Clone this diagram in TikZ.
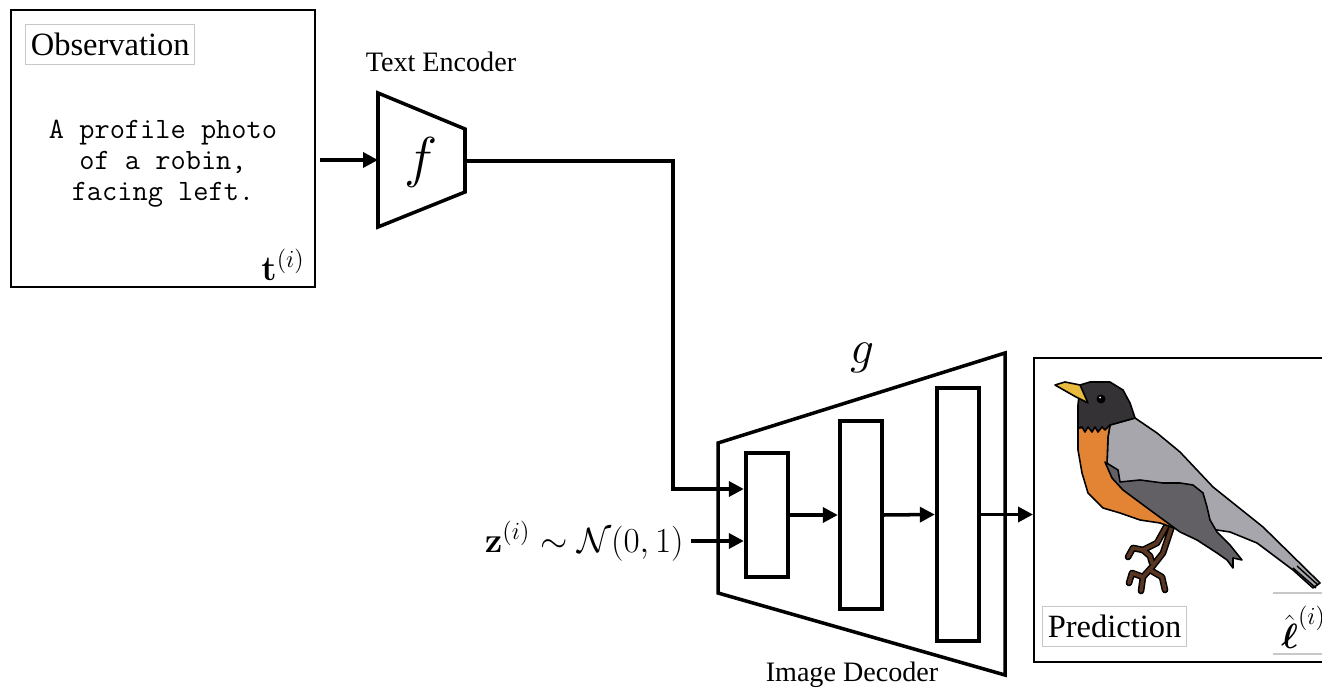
\documentclass[tikz,border=0pt]{standalone}
\usepackage{fix-cm}
\usepackage{amsmath,amssymb}
\usepackage[no-math]{fontspec}
\setmainfont{Liberation Serif}
\usetikzlibrary{arrows.meta,positioning,calc}

\definecolor{robinorange}{RGB}{226,132,52}
\definecolor{robinback}{RGB}{166,166,172}
\definecolor{robinwing}{RGB}{98,96,100}
\definecolor{robinhead}{RGB}{52,50,52}
\definecolor{robinbeak}{RGB}{232,186,62}
\definecolor{robinleg}{RGB}{88,54,34}
\definecolor{tagline}{RGB}{200,200,200}

\tikzset{
  arr/.style={line width=2pt,-{Triangle[length=8.5pt,width=8.5pt]}},
  net/.style={line width=2pt,line join=miter},
  layer/.style={draw,line width=2.5pt,minimum width=0.84cm,inner sep=0pt},
  tag/.style={draw=tagline,line width=0.6pt,font=\fontsize{18.5}{22}\selectfont,inner xsep=3pt,minimum height=0.8cm},
  caption/.style={font=\fontsize{16}{19}\selectfont},
  mathlbl/.style={font=\fontsize{20}{24}\selectfont,inner sep=0pt},
  plumage/.style={draw=black,line width=0.9pt,line join=round},
}

\begin{document}
\begin{tikzpicture}[x=0.02cm,y=-0.02cm]
\useasboundingbox (0,0) rectangle (1322,688);

% observation box
\node[draw,line width=1.2pt,minimum width=6.08cm,minimum height=5.54cm,inner sep=0pt] (obs) at (163,148.5) {};
\node[tag,anchor=north west] (obslbl) at (25,24) {Observation};
\node[font=\ttfamily\fontsize{16.8}{17.6}\selectfont,align=center] (prompt) at (163,164) {A profile photo\\of a robin,\\facing left.};
\node[mathlbl,anchor=south east] (tvec) at (305,281) {$\mathbf{t}^{(i)}$};

% text encoder
\draw[net] (378,93) -- (465,129) -- (465,192) -- (378,227) -- cycle;
\coordinate (encL) at (378,160);
\coordinate (encR) at (465,161);
\coordinate (bend) at (673,489);
\node[font=\fontsize{32}{36}\selectfont] (f) at (421,162) {$f$};
\node[caption] (enclbl) at (441,62) {Text Encoder};

% image decoder
\draw[net] (718,443) -- (1005,353) -- (1005,675) -- (718,593) -- cycle;
\node[layer,minimum height=2.48cm] (l1) at (767,515) {};
\node[layer,minimum height=3.76cm] (l2) at (861,515) {};
\node[layer,minimum height=5.06cm] (l3) at (958,514.5) {};
\node[font=\fontsize{27}{30}\selectfont] (g) at (862,358) {$g$};
\node[caption] (declbl) at (852,675) {Image Decoder};

% noise input
\node[mathlbl,anchor=east] (z) at (684,541) {$\mathbf{z}^{(i)}\sim\mathcal{N}(0,1)$};

% prediction box
\node[draw,line width=1.2pt,minimum width=6.04cm,minimum height=6.08cm,anchor=north west,inner sep=0pt] (pred) at (1033,357) {};
\node[tag,anchor=north west] (predlbl) at (1042,606) {Prediction};
\draw[tagline,line width=0.6pt] (1273,593) -- (1330,593) (1273,654) -- (1330,654);
\node[mathlbl,anchor=west] (ell) at (1281,627) {$\hat{\boldsymbol{\ell}}^{(i)}$};

% connectors
\draw[arr,shorten <=2pt] (obs.east |- encL) -- (encL);
\draw[arr] (encR) -| (bend) -- (l1.west |- bend);
\draw[arr,shorten <=4pt] (z.east) -- (l1.west |- z.east);
\draw[arr] (l1.east) -- (l2.west);
\draw[arr] (l2.east) -- (l3.west);
\draw[arr] (l3.east) -- (pred.west |- l3.east);

% robin
\begin{scope}
  % legs
  \foreach \c/\w in {black/3.8pt,robinleg/2.1pt} {
    \draw[\c,line width=\w,line cap=round,line join=round]
      (1173,523) -- (1163,553) -- (1152,567) -- (1143,577) -- (1141,591)
      (1143,577) -- (1132,573) -- (1129,583)
      (1150,570) -- (1162,577) -- (1165,590)
      (1167,525) -- (1157,543) -- (1143,550) -- (1133,548) -- (1128,557)
      (1143,550) -- (1150,556) -- (1152,563);
  }
  % back and tail
  \fill[robinback,plumage] (1107,463) -- (1108,437) -- (1110,425) -- (1135,418) -- (1157,433)
    -- (1180,452) -- (1213,487) -- (1263,527) -- (1320,583) -- (1313,588) -- (1293,570)
    -- (1257,543) -- (1230,532) -- (1217,530) -- (1177,527) -- (1130,497) -- (1107,475) -- cycle;
  \draw[line width=0.8pt] (1293,568) -- (1316,588) (1297,566) -- (1318,585);
  % breast
  \fill[robinorange,plumage] (1078,428) -- (1078,450) -- (1082,473) -- (1088,493) -- (1103,508)
    -- (1120,513) -- (1140,520) -- (1160,523) -- (1180,530) -- (1150,505) -- (1120,485)
    -- (1107,463) -- (1108,437) -- (1110,425) -- cycle;
  % wing
  \fill[robinwing,plumage] (1105,462) -- (1118,470) -- (1120,482) -- (1140,480) -- (1163,483)
    -- (1180,483) -- (1193,485) -- (1203,493) -- (1207,507) -- (1210,520) -- (1217,532)
    -- (1230,545) -- (1242,560) -- (1233,558) -- (1233,568) -- (1227,560) -- (1217,553)
    -- (1197,540) -- (1180,532) -- (1150,510) -- (1123,490) -- (1112,478) -- cycle;
  % head
  \fill[robinhead,plumage] (1080,385) -- (1090,382) -- (1110,382) -- (1123,390) -- (1130,403)
    -- (1135,418) -- (1110,425) -- (1105,430) -- (1102,427) -- (1098,432) -- (1095,427)
    -- (1092,432) -- (1088,427) -- (1085,432) -- (1082,427) -- (1078,428) -- (1078,405) -- cycle;
  \fill[robinbeak,plumage] (1055,385) -- (1065,382) -- (1080,385) -- (1088,403) -- (1076,397) -- cycle;
  \fill[black] (1101,399) circle (4.5);
  \fill[white] (1100,397.5) circle (1);
\end{scope}
\end{tikzpicture}
\end{document}
